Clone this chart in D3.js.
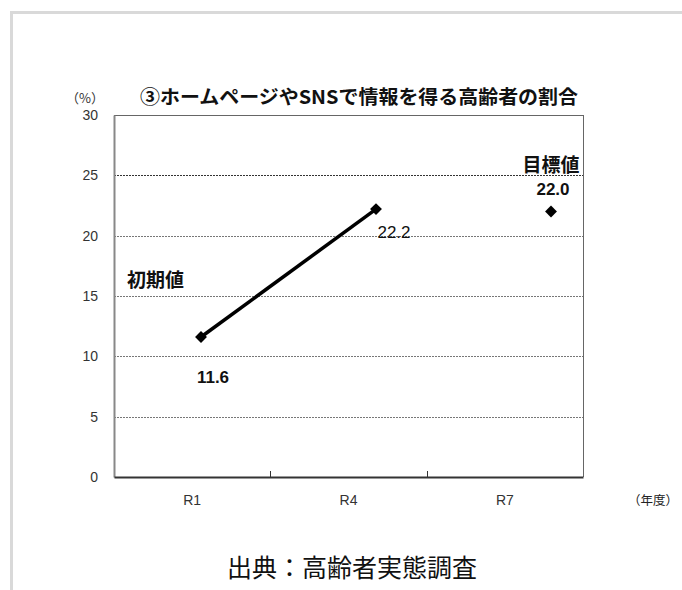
<!DOCTYPE html>
<html><head><meta charset="utf-8">
<script src="https://cdn.jsdelivr.net/npm/d3@7"></script>
<style>
html,body{margin:0;padding:0;background:#fff;}
svg{display:block;}
</style></head>
<body>
<script>
// ---- data ----
const categories = ["R1", "R4", "R7"];
const actualCategories = ["R1", "R4"];
const actualValues = [11.6, 22.2];
const targetCategories = ["R7"];
const targetValues = [22.0];
const yTicks = [0, 5, 10, 15, 20, 25, 30];
const titleText = "③ホームページやSNSで情報を得る高齢者の割合";
const yUnit = "（%）";
const xUnit = "（年度）";
const initialLabel = "初期値";
const targetLabel = "目標値";
const sourceText = "出典：高齢者実態調査";

const W = 682, H = 590;
const jp = "'Noto Sans CJK JP', sans-serif";
const num = "'Liberation Sans', Arial, sans-serif";

const svg = d3.select("body").append("svg").attr("width", W).attr("height", H);

// outer frame
svg.append("path").attr("d", `M11.5,${H} V12.5 H${W}`)
  .attr("fill", "none").attr("stroke", "#d9d9d9").attr("stroke-width", 3);

const plot = {left: 114, right: 583, top: 115, bottom: 477};

const y = d3.scaleLinear().domain([0, 30]).range([plot.bottom, plot.top]);
const xBand = d3.scaleBand().domain(categories).range([plot.left, plot.right]);
const xMark = d3.scalePoint().domain(categories).range([201, 551]);

// gridlines
svg.append("g").selectAll("line").data(yTicks.filter(d => d > 0 && d < 30)).join("line")
  .attr("x1", plot.left).attr("x2", plot.right)
  .attr("y1", d => Math.round(y(d)) + 0.5).attr("y2", d => Math.round(y(d)) + 0.5)
  .attr("stroke", d => d === 25 ? "#333" : "#777")
  .attr("stroke-width", 1)
  .attr("stroke-dasharray", "2,1");

// frame top/right
svg.append("line").attr("x1", plot.left).attr("x2", plot.right)
  .attr("y1", plot.top + 0.5).attr("y2", plot.top + 0.5).attr("stroke", "#666");
svg.append("line").attr("x1", plot.right + 0.5).attr("x2", plot.right + 0.5)
  .attr("y1", plot.top).attr("y2", plot.bottom).attr("stroke", "#666");

// y axis
const yAxis = svg.append("g").attr("transform", `translate(${plot.left},0)`)
  .call(d3.axisLeft(y).tickValues(yTicks).tickSize(0).tickPadding(16));
yAxis.select(".domain").attr("stroke", "#888").attr("stroke-width", 2);
yAxis.selectAll("text").attr("font-family", num).attr("font-size", 14).attr("fill", "#333");

// x axis
const xAxis = svg.append("g").attr("transform", `translate(0,${plot.bottom})`)
  .call(d3.axisBottom(xBand).tickSize(0).tickPadding(18));
xAxis.select(".domain").attr("stroke", "#333").attr("stroke-width", 2);
xAxis.selectAll("text").attr("font-family", num).attr("font-size", 14).attr("fill", "#333");
// category separator ticks
svg.append("g").selectAll("line").data(categories.slice(1)).join("line")
  .attr("x1", d => Math.round(xBand(d)) + 0.5).attr("x2", d => Math.round(xBand(d)) + 0.5)
  .attr("y1", plot.bottom - 6).attr("y2", plot.bottom)
  .attr("stroke", "#333");

// line for actual values
const actual = actualCategories.map((c, i) => ({c, v: actualValues[i]}));
svg.append("path").datum(actual)
  .attr("d", d3.line().x(d => xMark(d.c)).y(d => y(d.v)))
  .attr("fill", "none").attr("stroke", "#000").attr("stroke-width", 3.5);

const diamond = d3.symbol().type(d3.symbolDiamond2).size(90);
svg.append("g").selectAll("path").data(actual).join("path")
  .attr("transform", d => `translate(${xMark(d.c)},${y(d.v)})`)
  .attr("d", diamond).attr("fill", "#000");

const target = targetCategories.map((c, i) => ({c, v: targetValues[i]}));
svg.append("g").selectAll("path").data(target).join("path")
  .attr("transform", d => `translate(${xMark(d.c)},${y(d.v)})`)
  .attr("d", diamond).attr("fill", "#000");

// value labels
svg.append("text").attr("x", xMark("R1") + 12).attr("y", y(actualValues[0]) + 46)
  .attr("text-anchor", "middle").attr("font-family", num).attr("font-weight", "bold")
  .attr("font-size", 17).attr("fill", "#111").text(actualValues[0].toFixed(1));
svg.append("text").attr("x", xMark("R4") + 18).attr("y", y(actualValues[1]) + 29)
  .attr("text-anchor", "middle").attr("font-family", num)
  .attr("font-size", 17).attr("fill", "#111").text(actualValues[1].toFixed(1));
svg.append("text").attr("x", xMark("R7") + 2).attr("y", y(targetValues[0]) - 17)
  .attr("text-anchor", "middle").attr("font-family", num).attr("font-weight", "bold")
  .attr("font-size", 17).attr("fill", "#111").text(targetValues[0].toFixed(1));

svg.append("text").attr("x", 127).attr("y", 287)
  .attr("font-family", jp).attr("font-weight", "bold").attr("font-size", 19)
  .attr("fill", "#111").text(initialLabel);
svg.append("text").attr("x", xMark("R7")).attr("y", 172)
  .attr("text-anchor", "middle")
  .attr("font-family", jp).attr("font-weight", "bold").attr("font-size", 19)
  .attr("fill", "#111").text(targetLabel);

// title and units
svg.append("text").attr("x", 140).attr("y", 104)
  .attr("font-family", jp).attr("font-weight", "bold").attr("font-size", 19)
  .attr("textLength", 438).attr("lengthAdjust", "spacingAndGlyphs")
  .attr("fill", "#111").text(titleText);
svg.append("text").attr("x", 66).attr("y", 103)
  .attr("font-family", jp).attr("font-size", 13).attr("fill", "#333").text(yUnit);
svg.append("text").attr("x", 628).attr("y", 505)
  .attr("font-family", jp).attr("font-size", 12.5).attr("fill", "#222").text(xUnit);

// source
svg.append("text").attr("x", 352).attr("y", 577).attr("text-anchor", "middle")
  .attr("font-family", jp).attr("font-size", 25).attr("fill", "#111").text(sourceText);
</script>
</body></html>
